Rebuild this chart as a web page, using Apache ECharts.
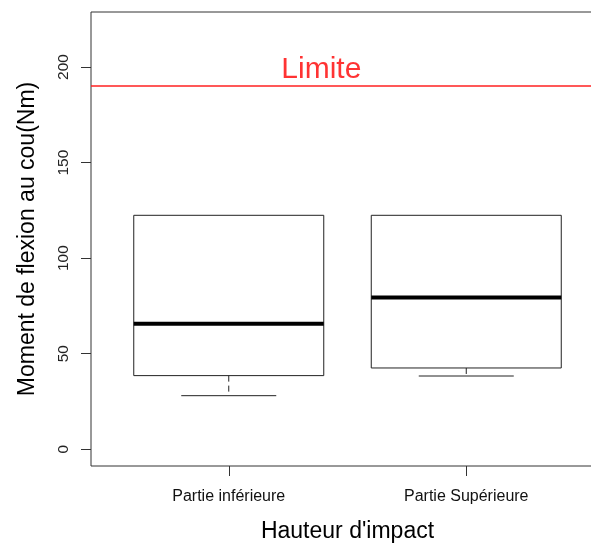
<!DOCTYPE html>
<html>
<head>
<meta charset="utf-8">
<script src="https://cdn.jsdelivr.net/npm/echarts@6/dist/echarts.min.js"></script>
<style>
  html, body { margin: 0; padding: 0; background: #fff; }
  #chart { width: 591px; height: 543px; }
</style>
</head>
<body>
<div id="chart"></div>
<script>
// ---- Data ----
const categories = ['Partie inférieure', 'Partie Supérieure'];
const whiskerLow = [28.0, 38.3];
const quartile1 = [38.5, 42.5];
const medians = [65.6, 79.4];
const quartile3 = [122.4, 122.4];
const whiskerHigh = [122.4, 122.4];
const yTicks = [0, 50, 100, 150, 200];
const limitValue = 190;
const limitText = 'Limite';

// ---- Build ----
const boxData = categories.map((c, i) => [i + 1, whiskerLow[i], quartile1[i], medians[i], quartile3[i], whiskerHigh[i]]);
const xTicks = categories.map((c, i) => i + 1);
const FONT = "'Liberation Sans', Arial, sans-serif";
const BOX_HALF = 0.4, CAP_HALF = 0.2;

function renderBox(params, api) {
  const x = api.value(0);
  const lo = api.value(1), q1 = api.value(2), md = api.value(3), q3 = api.value(4), hi = api.value(5);
  const tl = api.coord([x - BOX_HALF, q3]);
  const br = api.coord([x + BOX_HALF, q1]);
  const mL = api.coord([x - BOX_HALF, md]);
  const mR = api.coord([x + BOX_HALF, md]);
  const cq1 = api.coord([x, q1]);
  const clo = api.coord([x, lo]);
  const cq3 = api.coord([x, q3]);
  const chi = api.coord([x, hi]);
  const capLoL = api.coord([x - CAP_HALF, lo]);
  const capLoR = api.coord([x + CAP_HALF, lo]);
  const capHiL = api.coord([x - CAP_HALF, hi]);
  const capHiR = api.coord([x + CAP_HALF, hi]);
  const line = (a, b, style) => ({
    type: 'line',
    shape: { x1: a[0], y1: a[1], x2: b[0], y2: b[1] },
    style: style
  });
  const thin = { stroke: '#222', lineWidth: 1 };
  const dashed = { stroke: '#222', lineWidth: 1, lineDash: [6, 4] };
  const children = [];
  if (lo < q1) {
    children.push(line(cq1, clo, dashed));
    children.push(line(capLoL, capLoR, thin));
  }
  if (hi > q3) {
    children.push(line(cq3, chi, dashed));
    children.push(line(capHiL, capHiR, thin));
  }
  children.push({
    type: 'rect',
    shape: { x: tl[0], y: tl[1], width: br[0] - tl[0], height: br[1] - tl[1] },
    style: { fill: 'none', stroke: '#222', lineWidth: 1 }
  });
  children.push(line(mL, mR, { stroke: '#000', lineWidth: 4 }));
  return { type: 'group', children: children };
}

const chart = echarts.init(document.getElementById('chart'), null, { renderer: 'canvas' });
chart.setOption({
  animation: false,
  backgroundColor: '#fff',
  grid: {
    left: 91, top: 12, width: 513, height: 454,
    outerBoundsMode: 'none', containLabel: false,
    show: true, borderColor: '#333', borderWidth: 1, backgroundColor: 'transparent'
  },
  xAxis: {
    type: 'value', min: 0.42, max: 2.58,
    name: "Hauteur d'impact", nameLocation: 'middle', nameGap: 54,
    nameTextStyle: { fontFamily: FONT, fontSize: 23, color: '#000' },
    axisLine: { show: false, onZero: false },
    splitLine: { show: false },
    axisTick: { show: true, length: 10, inside: false, customValues: xTicks, lineStyle: { color: '#333' } },
    axisLabel: {
      customValues: xTicks, margin: 23,
      fontFamily: FONT, fontSize: 16, color: '#111',
      formatter: v => categories[Math.round(v) - 1] || ''
    }
  },
  yAxis: {
    type: 'value', min: -8.8, max: 228.8,
    name: 'Moment de flexion au cou(Nm)', nameLocation: 'middle', nameGap: 52,
    nameTextStyle: { fontFamily: FONT, fontSize: 23, color: '#000' },
    axisLine: { show: false, onZero: false },
    splitLine: { show: false },
    axisTick: { show: true, length: 10, inside: false, customValues: yTicks, lineStyle: { color: '#333' } },
    axisLabel: {
      customValues: yTicks, rotate: 90, margin: 19,
      fontFamily: FONT, fontSize: 15.5, color: '#222'
    }
  },
  series: [
    {
      type: 'custom',
      renderItem: renderBox,
      data: boxData,
      encode: { x: 0, y: [1, 2, 3, 4, 5] },
      clip: false,
      z: 3
    },
    {
      type: 'line',
      data: [],
      markLine: {
        silent: true,
        symbol: ['none', 'none'],
        label: { show: false },
        lineStyle: { color: '#ff2020', width: 1.5, type: 'solid' },
        data: [{ yAxis: limitValue }]
      }
    },
    {
      type: 'scatter',
      symbolSize: 0,
      data: [[1.39, 198.5]],
      label: {
        show: true, position: 'inside', formatter: limitText,
        fontFamily: FONT, fontSize: 30, color: '#ff0000'
      },
      z: 4
    }
  ]
});
</script>
</body>
</html>
